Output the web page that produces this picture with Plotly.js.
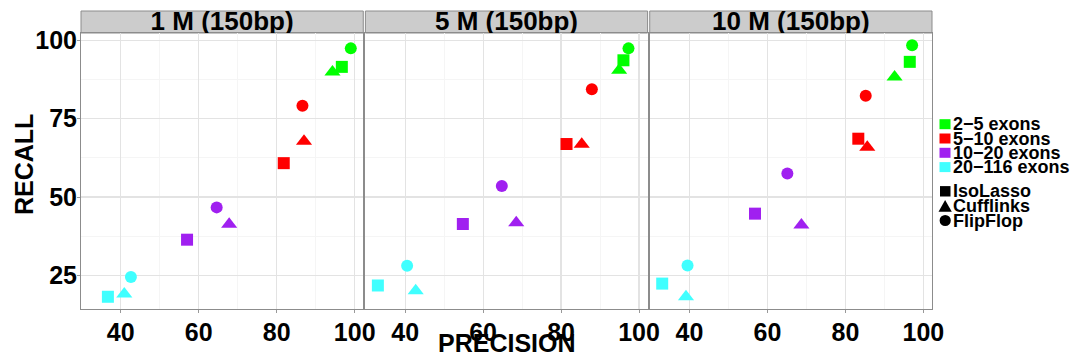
<!DOCTYPE html>
<html><head><meta charset="utf-8">
<script src="https://cdn.plot.ly/plotly-3.0.1.min.js"></script>
<style>html,body{margin:0;padding:0;background:#fff}#chart{width:1078px;height:360px}</style>
</head><body><div id="chart"></div>
<script>
// ---- data ----
const panels = ["1 M (150bp)", "5 M (150bp)", "10 M (150bp)"];
const categories = ["2\u22125 exons", "5\u221210 exons", "10\u221220 exons", "20\u2212116 exons"];
const categoryColors = ["#00FF00", "#FF0000", "#A020F0", "#40FFFF"];
const methods = ["IsoLasso", "Cufflinks", "FlipFlop"];
const methodSymbols = ["square", "triangle-up", "circle"];
const xTicks = [40, 60, 80, 100];
const yTicks = [25, 50, 75, 100];

// values per category (2-5, 5-10, 10-20, 20-116)
const precIsoLasso1M  = [96.7, 81.8, 57.0, 36.7];
const recIsoLasso1M   = [91.5, 60.8, 36.4, 18.2];
const precCufflinks1M = [94.3, 87.0, 67.8, 40.9];
const recCufflinks1M  = [89.9, 67.8, 41.3, 19.1];
const precFlipFlop1M  = [99.0, 86.6, 64.6, 42.6];
const recFlipFlop1M   = [97.4, 79.1, 46.7, 24.5];

const precIsoLasso5M  = [96.0, 81.4, 54.8, 33.0];
const recIsoLasso5M   = [93.6, 66.9, 41.4, 21.8];
const precCufflinks5M = [94.9, 85.3, 68.5, 42.7];
const recCufflinks5M  = [90.4, 66.8, 41.8, 20.1];
const precFlipFlop5M  = [97.3, 87.9, 64.8, 40.5];
const recFlipFlop5M   = [97.4, 84.4, 53.5, 28.1];

const precIsoLasso10M  = [96.5, 83.3, 56.8, 33.0];
const recIsoLasso10M   = [93.1, 68.6, 44.7, 22.4];
const precCufflinks10M = [92.6, 85.6, 68.7, 39.1];
const recCufflinks10M  = [88.3, 65.9, 41.1, 18.2];
const precFlipFlop10M  = [97.1, 85.2, 65.1, 39.5];
const recFlipFlop10M   = [98.4, 82.3, 57.5, 28.2];

const panelPrec = [
  [precIsoLasso1M, precCufflinks1M, precFlipFlop1M],
  [precIsoLasso5M, precCufflinks5M, precFlipFlop5M],
  [precIsoLasso10M, precCufflinks10M, precFlipFlop10M]
];
const panelRec = [
  [recIsoLasso1M, recCufflinks1M, recFlipFlop1M],
  [recIsoLasso5M, recCufflinks5M, recFlipFlop5M],
  [recIsoLasso10M, recCufflinks10M, recFlipFlop10M]
];

// ---- layout geometry ----
const W = 1078, H = 360;
const L = 81, R = 932, T = 11, B = 309;
const px2x = p => (p - L) / (R - L);
const py2y = p => (B - p) / (B - T);
const stripBottom = py2y(33);
const domains = [[0, 0.3317], [0.3342, 0.6658], [0.6683, 1]];
const FONT = "'Liberation Sans', Arial, Helvetica, sans-serif";

const traces = [];
panels.forEach((p, i) => {
  const sfx = i === 0 ? '' : String(i + 1);
  methods.forEach((m, j) => {
    traces.push({
      type: 'scatter', mode: 'markers',
      x: panelPrec[i][j], y: panelRec[i][j],
      xaxis: 'x' + sfx, yaxis: 'y' + sfx,
      name: m, showlegend: false, cliponaxis: false,
      marker: { symbol: methodSymbols[j], size: j === 1 ? 14 : 12, color: categoryColors, line: { width: 0 } },
      hoverinfo: 'x+y'
    });
  });
  // strip label (clipped to strip)
  traces.push({
    type: 'scatter', mode: 'text', x: [0.5], y: [0.42],
    xaxis: 'x' + (i + 4), yaxis: 'y4', text: [p], cliponaxis: true,
    textposition: 'middle center',
    textfont: { family: FONT, size: 26, weight: 'bold', color: '#000' },
    showlegend: false, hoverinfo: 'skip'
  });
});

const layout = {
  width: W, height: H,
  margin: { l: L, r: W - R, t: T, b: H - B, pad: 0 },
  paper_bgcolor: '#fff', plot_bgcolor: 'rgba(0,0,0,0)',
  font: { family: FONT, weight: 'bold', color: '#000' },
  showlegend: false,
  shapes: [], annotations: []
};

function xAxis(dom, anchor) {
  return {
    domain: dom, anchor: anchor, range: [29.8, 102.2], fixedrange: true,
    tickmode: 'array', tickvals: xTicks, ticks: 'outside', ticklen: 3, tickcolor: '#999', tickwidth: 1,
    tickfont: { family: FONT, size: 25, weight: 'bold', color: '#000' },
    ticklabelstandoff: -2,
    showline: true, mirror: true, linecolor: '#8C8C8C', linewidth: 1,
    showgrid: true, gridcolor: '#E3E3E3', gridwidth: 1.2, zeroline: false,
    minor: { tickmode: 'array', tickvals: [30, 50, 70, 90], showgrid: true, gridcolor: '#F5F5F5', gridwidth: 1, ticks: '' }
  };
}
function yAxis(anchor, labels) {
  return {
    domain: [0, stripBottom], anchor: anchor, range: [14.3, 102.3], fixedrange: true,
    tickmode: 'array', tickvals: yTicks, ticks: labels ? 'outside' : '', ticklen: 3, tickcolor: '#999', tickwidth: 1,
    showticklabels: labels,
    tickfont: { family: FONT, size: 25, weight: 'bold', color: '#000' },
    ticklabelstandoff: -5,
    showline: true, mirror: true, linecolor: '#8C8C8C', linewidth: 1,
    showgrid: true, gridcolor: '#E3E3E3', gridwidth: 1.2, zeroline: false,
    minor: { tickmode: 'array', tickvals: [37.5, 62.5, 87.5], showgrid: true, gridcolor: '#F5F5F5', gridwidth: 1, ticks: '' }
  };
}
layout.xaxis = xAxis(domains[0], 'y');
layout.xaxis2 = xAxis(domains[1], 'y2');
layout.xaxis3 = xAxis(domains[2], 'y3');
layout.yaxis = yAxis('x', true);
layout.yaxis2 = yAxis('x2', false);
layout.yaxis3 = yAxis('x3', false);
[4, 5, 6].forEach((k, i) => {
  layout['xaxis' + k] = { domain: domains[i], anchor: 'y4', range: [0, 1], visible: false, fixedrange: true };
});
layout.yaxis4 = { domain: [stripBottom, 1], anchor: 'x4', range: [0, 1], visible: false, fixedrange: true };

// strips
domains.forEach(d => {
  layout.shapes.push({ type: 'rect', xref: 'paper', yref: 'paper', x0: d[0], x1: d[1], y0: stripBottom, y1: 1,
    fillcolor: '#CCCCCC', line: { color: '#8C8C8C', width: 1 }, layer: 'below' });
});

// axis titles
layout.annotations.push({ xref: 'paper', yref: 'paper', x: px2x(506.5), y: py2y(342.5), xanchor: 'center', yanchor: 'middle',
  text: 'PRECISION', showarrow: false, font: { family: FONT, size: 25, weight: 'bold', color: '#000' } });
layout.annotations.push({ xref: 'paper', yref: 'paper', x: px2x(24), y: py2y(165), xanchor: 'center', yanchor: 'middle',
  text: 'RECALL', textangle: -90, showarrow: false, font: { family: FONT, size: 25, weight: 'bold', color: '#000' } });

// manual legend
const catRowY = [124.2, 138.5, 152.8, 167.1];
categories.forEach((c, i) => {
  const cy = catRowY[i];
  layout.shapes.push({ type: 'rect', xref: 'paper', yref: 'paper', x0: px2x(939.5), x1: px2x(950.5),
    y0: py2y(cy + 5), y1: py2y(cy - 5), fillcolor: categoryColors[i], line: { width: 0 } });
  layout.annotations.push({ xref: 'paper', yref: 'paper', x: px2x(950.5), y: py2y(cy), xanchor: 'left', yanchor: 'middle',
    text: c, showarrow: false, font: { family: FONT, size: 18, weight: 'bold', color: '#000' } });
});
const symRowY = [191.3, 206, 220.5];
// square
layout.shapes.push({ type: 'rect', xref: 'paper', yref: 'paper', x0: px2x(940), x1: px2x(950.5),
  y0: py2y(symRowY[0] + 5.2), y1: py2y(symRowY[0] - 5.2), fillcolor: '#000', line: { width: 0 } });
// triangle
{
  const cy = symRowY[1];
  const p = (x, y) => px2x(x).toFixed(5) + ',' + py2y(y).toFixed(5);
  layout.shapes.push({ type: 'path', xref: 'paper', yref: 'paper',
    path: 'M' + p(938.5, cy + 5.8) + ' L' + p(951.8, cy + 5.8) + ' L' + p(945.1, cy - 6) + ' Z',
    fillcolor: '#000', line: { width: 0 } });
}
// circle
layout.shapes.push({ type: 'circle', xref: 'paper', yref: 'paper', x0: px2x(939.6), x1: px2x(950.8),
  y0: py2y(symRowY[2] + 5.6), y1: py2y(symRowY[2] - 5.6), fillcolor: '#000', line: { width: 0 } });
methods.forEach((m, i) => {
  layout.annotations.push({ xref: 'paper', yref: 'paper', x: px2x(950.5), y: py2y(symRowY[i]), xanchor: 'left', yanchor: 'middle',
    text: m, showarrow: false, font: { family: FONT, size: 18, weight: 'bold', color: '#000' } });
});

Plotly.newPlot('chart', traces, layout, { displayModeBar: false, staticPlot: true });
</script>
</body></html>
